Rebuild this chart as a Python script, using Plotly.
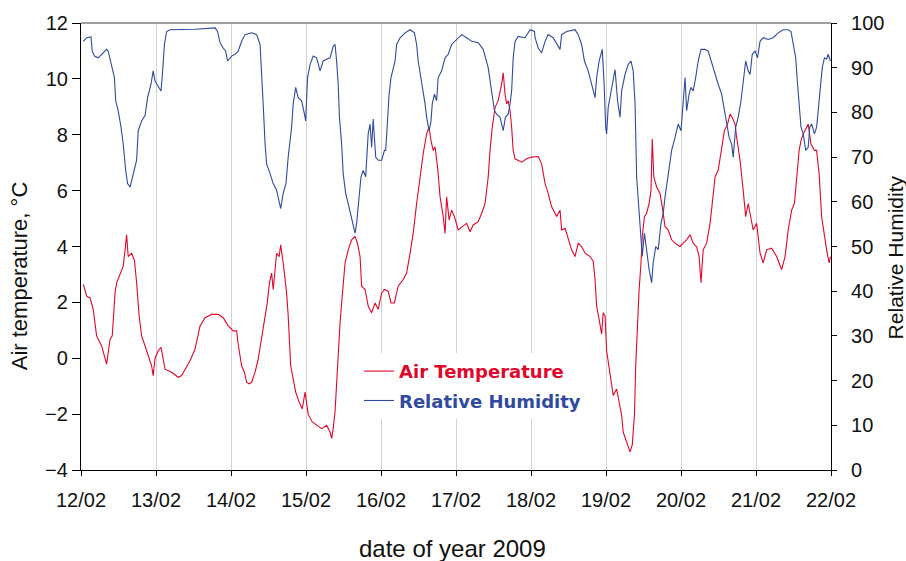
import pandas as pd
import plotly.graph_objects as go

# Measurement period start; all sample times below are hours after this instant
START = pd.Timestamp("2009-02-12 00:00")
N_DAYS = 10

# Air temperature (°C) samples
temp_hours = [
    0.75, 1.8, 2.9, 3.9, 5.0, 6.6, 8.2, 9.3, 10.0, 10.9, 11.4, 12.5, 13.5, 14.1, 14.6,
    15.1, 16.2, 17.1, 17.8, 18.6, 19.4, 20.5, 21.5, 22.6, 23.1, 23.7, 24.7, 25.6, 26.9, 29.0,
    31.1, 32.2, 33.3, 34.9, 36.5, 38.1, 39.7, 41.8, 43.9, 45.5, 47.1, 48.7,
    49.8, 50.3, 51.4, 52.3, 53.0, 53.8, 54.6, 55.7, 56.7, 57.8, 58.9, 59.6, 60.3, 61.0, 61.5,
    62.1, 62.6, 63.4, 63.9, 64.7, 65.3, 65.8, 66.3, 67.1, 67.9, 68.7, 69.8, 70.8, 71.7, 72.7,
    74.0, 75.4, 77.0, 78.6, 79.7, 80.2, 80.7, 81.3, 81.8, 82.3, 82.9, 83.4, 83.9, 84.5, 85.5,
    86.6, 87.7, 88.5, 89.3, 89.8, 90.9, 91.9, 93.0, 94.1, 95.1, 96.2, 97.1,
    98.3, 99.2, 100.3, 101.0, 101.5, 103.1, 104.2, 105.3, 106.3, 107.4, 108.5, 109.5, 110.6,
    111.4, 112.0, 112.7, 113.3, 114.1, 114.9, 115.9, 116.5, 117.0, 117.8, 118.6, 119.5, 120.7,
    122.0, 123.4, 124.5, 125.5, 127.1, 128.2, 129.3, 130.3, 130.9, 131.6, 132.5, 133.5, 134.6,
    135.1, 135.7, 136.2, 136.7, 137.3, 137.8, 138.3, 138.9, 139.9, 141.0, 142.6, 144.2,
    146.3, 147.4, 148.5, 149.5, 150.6, 152.2, 153.3, 153.8, 154.9, 155.9, 157.0, 158.1, 159.1,
    160.2, 161.3, 162.9, 163.9, 164.5, 165.0, 165.8, 166.6, 167.1, 167.7, 168.2, 169.3, 170.3,
    171.4, 172.5, 173.0, 173.5, 174.6, 175.7, 176.4, 177.1, 177.5, 177.9, 178.6, 179.2, 179.6,
    180.3, 181.0, 181.8, 182.4, 182.8, 183.3, 184.2, 185.3, 186.0, 186.9, 187.9, 189.0, 190.1,
    191.7,
    192.7, 193.8, 194.9, 195.9, 197.0, 197.8, 198.4, 199.1, 200.2, 201.3, 202.0, 202.9, 203.9,
    205.0, 205.9, 206.9, 207.7, 208.4, 209.3, 209.8, 210.9, 211.9, 212.7, 213.5, 214.4, 215.1,
    216.2, 217.3, 218.3, 219.4, 221.0, 222.6, 224.2, 225.3, 226.3, 227.4, 228.3, 229.0, 229.8,
    230.4, 231.1, 232.2, 232.7, 233.6, 234.7, 235.4, 236.2, 237.0, 237.9, 238.6, 239.4, 239.8,
]
air_temperature = [
    2.64, 2.22, 2.16, 1.75, 0.80, 0.44, -0.21, 0.68, 0.80, 2.34, 2.70, 3.05, 3.29, 3.88, 4.42,
    3.64, 3.76, 3.50, 2.70, 1.51, 0.80, 0.44, 0.09, -0.27, -0.62, 0.00, 0.27, 0.39, -0.39, -0.50,
    -0.68, -0.62, -0.40, -0.09, 0.33, 1.16, 1.45, 1.57, 1.57, 1.45, 1.16, 0.98,
    0.98, 0.50, -0.27, -0.50, -0.86, -0.92, -0.86, -0.50, -0.03, 0.80, 1.51, 1.98, 2.70, 3.05, 2.46,
    3.17, 3.76, 3.64, 4.06, 3.41, 2.93, 2.34, 1.51, -0.27, -0.74, -1.21, -1.57, -1.81, -1.21, -2.00,
    -2.28, -2.40, -2.52, -2.40, -2.64, -2.87, -2.52, -1.90, -0.86, 0.33, 1.27, 1.98, 2.70, 3.41, 3.88,
    4.24, 4.36, 4.10, 3.64, 2.58, 2.46, 1.87, 1.63, 1.98, 1.75, 2.34, 2.46,
    2.40, 1.98, 1.98, 2.34, 2.58, 2.82, 3.05, 3.76, 4.47, 5.54, 6.49, 7.32, 8.03,
    8.27, 7.79, 7.44, 7.56, 6.84, 5.78, 5.07, 4.47, 5.78, 4.95, 5.30, 5.07, 4.59,
    4.71, 4.83, 4.53, 4.77, 4.89, 5.18, 5.54, 6.49, 7.44, 8.27, 8.98, 9.22, 9.81,
    10.22, 9.45, 9.10, 9.22, 8.86, 8.27, 7.44, 7.14, 7.08, 7.02, 7.14, 7.20,
    7.22, 6.96, 6.25, 5.90, 5.42, 5.07, 5.30, 4.59, 4.65, 4.24, 3.88, 3.64, 4.12,
    4.00, 3.76, 3.64, 3.47, 2.82, 1.87, 1.39, 0.86, 1.63, 1.51, 0.27, -0.62, -1.33,
    -1.10, -1.81, -2.04, -2.64, -2.99, -3.35, -3.10, -2.04, -0.27, 0.80, 2.46, 3.41, 4.36,
    5.07, 5.19, 5.54, 6.01, 7.85, 6.49, 6.13, 5.90, 5.42, 4.71, 4.59, 4.24, 4.12,
    4.00,
    4.12, 4.24, 4.42, 4.12, 3.99, 3.64, 2.70, 3.88, 4.12, 4.83, 5.54, 6.49, 6.73,
    7.44, 8.15, 8.38, 8.74, 8.62, 8.38, 7.91, 7.08, 6.01, 5.07, 5.54, 5.07, 4.59,
    4.83, 3.76, 3.41, 3.88, 3.94, 3.64, 3.17, 3.64, 4.59, 5.30, 5.54, 6.49, 7.44,
    7.79, 8.03, 8.27, 8.38, 7.67, 7.44, 7.44, 6.60, 5.07, 4.36, 3.88, 3.41, 3.64,
]

# Relative humidity (%) samples
rh_hours = [
    0.75, 1.8, 3.2, 3.6, 4.3, 5.5, 6.6, 8.2, 8.7, 9.8, 10.7, 11.1, 11.9, 12.8, 13.5,
    14.3, 14.9, 15.7, 16.7, 17.8, 18.3, 19.4, 20.5, 21.3, 22.4, 23.1, 23.7, 24.7, 25.6, 26.0,
    26.7, 27.4, 28.5, 36.5, 42.9, 43.7, 44.5, 45.5, 46.3, 46.9, 48.2,
    49.3, 50.3, 51.4, 52.5, 54.6, 56.2, 57.3, 57.8, 58.3, 58.9, 59.4, 60.5, 61.5, 62.6, 63.9,
    64.7, 65.6, 66.3, 67.4, 67.9, 68.7, 69.5, 70.6, 71.5, 71.9, 72.5, 73.3, 74.3, 75.4, 76.5,
    77.5, 78.6, 79.7, 80.7, 81.3, 81.8, 82.3, 82.7, 83.4, 83.9, 84.7, 85.5, 86.4, 87.1, 87.7,
    88.2, 88.7, 89.6, 90.3, 91.1, 91.9, 92.5, 93.0, 93.5, 94.3, 95.1, 96.2, 97.1,
    97.5, 98.1, 98.6, 99.2, 100.5, 101.0, 102.1, 103.7, 105.3, 106.7, 107.4, 107.9, 109.0,
    110.1, 110.6, 111.4, 112.0, 112.4, 113.1, 113.8, 114.3, 115.4, 116.5, 117.5, 118.6, 120.2,
    121.8, 123.4, 125.0, 127.1, 128.7, 130.3, 131.4, 132.3, 133.0, 134.1, 135.1, 135.8, 136.7,
    137.3, 137.8, 138.3, 138.9, 139.9, 142.1, 143.7, 145.1,
    145.3, 146.3, 147.4, 148.5, 149.5, 151.1, 152.7, 153.3, 153.8, 155.4, 158.1, 159.1, 160.2,
    161.1, 162.3, 163.4, 164.5, 165.0, 165.8, 166.8, 167.4, 167.9, 168.2, 168.7, 169.6, 170.3,
    170.9, 171.7, 172.5, 173.0, 174.1, 175.1, 176.0, 176.7, 177.3, 177.8, 178.6, 179.2, 179.6,
    180.3, 181.0, 181.8, 182.6, 183.1, 183.9, 184.7, 185.6, 186.3, 186.9, 187.9, 189.0, 190.1,
    191.1, 192.0, 192.7, 193.3, 193.8, 194.6, 195.2, 195.9, 196.7, 197.5, 198.4, 199.7, 200.7,
    201.6, 202.3, 203.1, 203.9, 205.0, 205.9, 206.6, 207.4, 208.2, 208.7, 209.5, 210.3, 211.2,
    211.9, 212.7, 213.5, 214.1, 214.8, 215.7, 216.5, 217.3, 218.3, 219.9, 221.5, 223.1, 224.7,
    226.3, 227.2, 227.9, 228.7, 229.3, 229.8, 230.4, 231.1, 231.9, 232.7, 233.2, 233.8, 234.7,
    235.4, 235.9, 236.6, 237.2, 237.9, 238.6, 239.1, 239.8,
]
relative_humidity = [
    95.9, 96.7, 96.9, 93.7, 92.6, 92.2, 93.0, 94.1, 93.7, 90.0, 87.8, 82.6, 80.4, 76.7, 73.0,
    67.0, 64.1, 63.3, 66.3, 69.3, 75.9, 78.1, 79.3, 83.3, 86.3, 89.3, 87.0, 85.9, 84.8, 88.0,
    95.2, 98.1, 98.5, 98.6, 98.9, 98.1, 95.6, 94.4, 93.7, 91.5, 92.6,
    93.0, 93.7, 95.9, 97.4, 97.8, 97.4, 95.2, 89.3, 81.9, 73.0, 68.5, 66.3, 64.1, 62.6, 58.5,
    61.9, 64.1, 70.0, 76.7, 81.9, 85.6, 83.3, 82.6, 79.6, 78.1, 87.8, 90.7, 92.6, 92.2, 89.3,
    91.5, 91.9, 92.2, 94.8, 95.2, 91.5, 86.3, 78.9, 73.0, 66.3, 61.9, 59.6, 56.7, 54.4, 53.0,
    55.2, 59.6, 65.6, 67.0, 65.6, 75.2, 77.4, 72.2, 78.5, 70.0, 69.3, 69.3, 71.5,
    71.5, 78.9, 84.1, 87.8, 91.5, 95.2, 96.7, 97.8, 98.5, 97.8, 95.2, 91.5, 87.0,
    81.9, 78.9, 75.9, 78.1, 81.9, 84.1, 82.6, 87.8, 89.3, 92.2, 93.0, 95.2, 96.3,
    97.4, 96.7, 95.9, 95.6, 94.1, 90.0, 84.8, 80.4, 79.6, 78.9, 75.9, 78.9, 79.6,
    81.9, 84.8, 92.2, 95.9, 97.0, 96.7, 98.5, 98.1,
    96.7, 94.4, 93.3, 95.9, 97.4, 96.7, 94.8, 94.1, 97.4, 98.1, 98.5, 97.4, 95.2,
    91.5, 89.3, 86.3, 83.3, 87.8, 91.5, 94.1, 86.3, 76.7, 75.2, 81.1, 84.8, 87.0,
    89.6, 82.6, 78.9, 84.8, 88.5, 90.7, 91.5, 89.3, 81.9, 65.6, 58.1, 52.2, 47.8,
    53.0, 49.3, 44.8, 41.9, 46.3, 50.0, 49.3, 55.2, 57.4, 61.1, 66.3, 71.5, 74.4,
    77.4, 75.9, 81.9, 87.8, 80.4, 84.1, 85.6, 84.8, 87.8, 91.5, 94.1, 94.1, 93.7,
    91.5, 90.0, 87.8, 86.3, 84.1, 80.4, 76.7, 74.4, 72.9, 70.0, 76.7, 78.9, 82.6,
    86.3, 91.5, 89.3, 88.5, 93.0, 93.7, 92.2, 95.9, 96.7, 96.3, 96.7, 97.8, 98.5,
    98.5, 98.1, 95.2, 92.2, 86.3, 82.6, 76.7, 75.2, 71.5, 72.2, 76.7, 77.4, 75.2,
    76.7, 80.4, 84.8, 90.0, 92.2, 91.9, 93.0, 91.5,
]

# Axis definitions
temp_range = [-4, 12]
rh_range = [0, 100]
day_ticks = pd.date_range(START, periods=N_DAYS + 1, freq="D")

RED = "#E3062B"
BLUE = "#2F4A9F"
TEXT_FONT = "Liberation Sans, Arial, sans-serif"

temp_time = START + pd.to_timedelta(temp_hours, unit="h")
rh_time = START + pd.to_timedelta(rh_hours, unit="h")

fig = go.Figure()
fig.add_trace(go.Scatter(
    x=temp_time, y=air_temperature, mode="lines",
    line=dict(color=RED, width=1.1),
    name=f"<span style='color:{RED}'>Air Temperature</span>",
    legendgroup="temp",
))
fig.add_trace(go.Scatter(
    x=rh_time, y=relative_humidity, mode="lines", yaxis="y2",
    line=dict(color=BLUE, width=1.1),
    name=f"<span style='color:{BLUE}'>Relative Humidity</span>",
    legendgroup="rh",
))

fig.update_layout(
    width=906, height=561,
    margin=dict(l=81, r=75, t=20, b=91),
    paper_bgcolor="white", plot_bgcolor="white",
    font=dict(family=TEXT_FONT, size=20, color="#111111"),
    showlegend=True,
    legend=dict(
        x=0.3707, y=0.262, xanchor="left", yanchor="top",
        bgcolor="white", borderwidth=0,
        font=dict(family="DejaVu Sans", size=18, weight=700),
        tracegroupgap=3, itemwidth=30,
    ),
    xaxis=dict(
        type="date",
        range=[day_ticks[0], day_ticks[-1]],
        tickvals=day_ticks, tickformat="%d/%m",
        showgrid=True, gridcolor="#d2d2d2", gridwidth=1,
        ticks="outside", ticklen=5, tickcolor="black",
        ticklabelstandoff=7,
        showline=True, linecolor="black", linewidth=1.3,
        zeroline=False,
    ),
    yaxis=dict(
        range=temp_range, tick0=-4, dtick=2,
        ticks="outside", ticklen=8, tickcolor="black",
        showline=True, linecolor="black", linewidth=1.2,
        showgrid=False, zeroline=False,
    ),
    yaxis2=dict(
        range=rh_range, tick0=0, dtick=10,
        overlaying="y", side="right", anchor="x",
        ticks="outside", ticklen=5, tickcolor="black",
        showline=True, linecolor="black", linewidth=1.2,
        showgrid=False, zeroline=False,
        ticklabelstandoff=10,
    ),
    yaxis3=dict(
        range=rh_range, tick0=0, dtick=10,
        overlaying="y", side="right", anchor="x",
        ticks="inside", ticklen=4, tickcolor="black",
        showticklabels=False, showline=False,
        showgrid=False, zeroline=False,
    ),
    shapes=[dict(
        type="line", xref="paper", yref="paper",
        x0=0, x1=1, y0=1, y1=1,
        line=dict(color="#7f7f7f", width=1.5),
    )],
    annotations=[
        dict(text="date of year 2009", xref="paper", yref="paper",
             x=0.4953, y=-0.176, xanchor="center", yanchor="middle",
             showarrow=False, font=dict(family=TEXT_FONT, size=24, color="#111111")),
        dict(text="Air temperature, °C", xref="paper", yref="paper",
             x=-0.0827, y=0.4356, xanchor="center", yanchor="middle", textangle=-90,
             showarrow=False, font=dict(family=TEXT_FONT, size=22, color="#111111")),
        dict(text="Relative Humidity", xref="paper", yref="paper",
             x=1.0853, y=0.4756, xanchor="center", yanchor="middle", textangle=-90,
             showarrow=False, font=dict(family=TEXT_FONT, size=21, color="#111111")),
    ],
)

fig.write_html("out.html")
